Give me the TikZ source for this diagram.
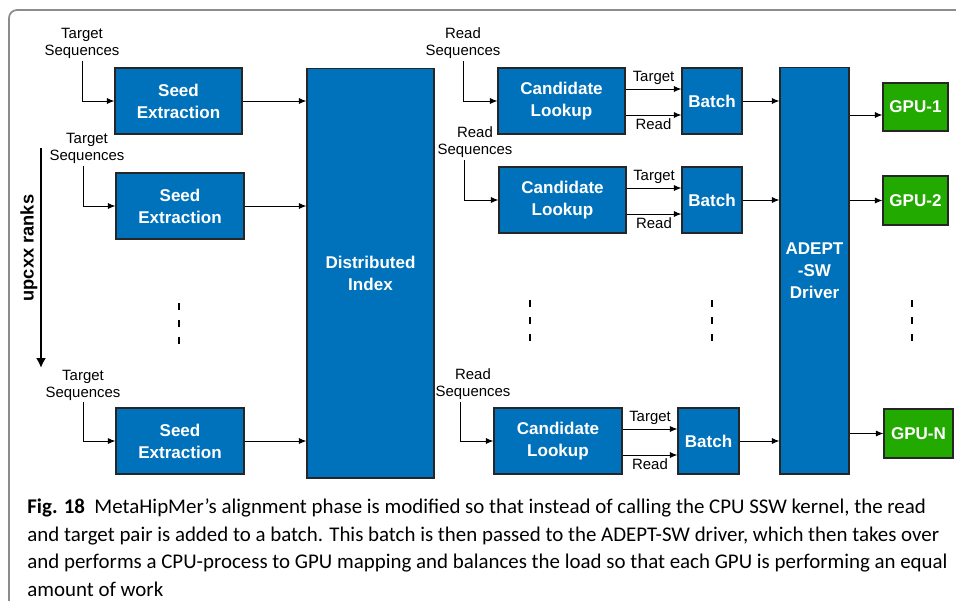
\documentclass[tikz,border=0pt]{standalone}
\usepackage{fontspec}
\setmainfont{Liberation Sans}
\newfontfamily\captionfont{Carlito}
\usetikzlibrary{arrows.meta}

\definecolor{boxblue}{RGB}{0,114,187}
\definecolor{gpugreen}{RGB}{34,170,0}
\definecolor{framegray}{RGB}{140,140,140}

\tikzset{
    blockbox/.style={draw=black!85, line width=0.6pt, fill=boxblue, text=white,
        font=\fontsize{9.7}{12.5}\selectfont\bfseries, align=center, inner sep=0pt},
    gpubox/.style={blockbox, fill=gpugreen},
    inlabel/.style={font=\fontsize{8.5}{9.6}\selectfont, align=center, inner sep=1pt},
    arrowlabel/.style={font=\fontsize{8.5}{9.6}\selectfont, inner sep=2pt},
    flow/.style={-{Latex[length=1.5mm,width=1.2mm]}, line width=0.55pt},
    vdots/.style={line width=1.6pt, dash pattern=on 4pt off 5.7pt},
}

\begin{document}
\begin{tikzpicture}[x=0.02cm, y=-0.02cm]
        % Setup the frame
        \useasboundingbox (0,0) rectangle (956,600);
        \clip (0,0) rectangle (956,600);
        \draw[framegray, line width=1pt, rounded corners=0.16cm] (9,10) rectangle (990,640);

        % Seed extraction column
        \node[blockbox, minimum width=2.54cm, minimum height=1.32cm] (seed1) at (178.5,101) {Seed\\Extraction};
        \node[blockbox, minimum width=2.56cm, minimum height=1.32cm] (seed2) at (180,206) {Seed\\Extraction};
        \node[blockbox, minimum width=2.56cm, minimum height=1.32cm] (seed3) at (180,441) {Seed\\Extraction};

        \node[inlabel] (ts1) at (82,43.5) {Target\\Sequences};
        \node[inlabel] (ts2) at (87,148.5) {Target\\Sequences};
        \node[inlabel] (ts3) at (83,385) {Target\\Sequences};

        \draw[flow] (ts1.south) |- (seed1.west);
        \draw[flow] ([xshift=-0.08cm]ts2.south) |- (seed2.west);
        \draw[flow] (ts3.south) |- (seed3.west);

        % Distributed index
        \node[blockbox, minimum width=2.54cm, minimum height=8.2cm] (index) at (370.5,273) {Distributed\\Index};

        \draw[flow] (seed1.east) -- (seed1.east -| index.west);
        \draw[flow] (seed2.east) -- (seed2.east -| index.west);
        \draw[flow] (seed3.east) -- (seed3.east -| index.west);

        % Candidate lookup column
        \node[blockbox, minimum width=2.54cm, minimum height=1.32cm] (cl1) at (561.5,101) {Candidate\\Lookup};
        \node[blockbox, minimum width=2.54cm, minimum height=1.32cm] (cl2) at (562.5,200) {Candidate\\Lookup};
        \node[blockbox, minimum width=2.56cm, minimum height=1.32cm] (cl3) at (558,441) {Candidate\\Lookup};

        \node[inlabel] (rs1) at (463,43.5) {Read\\Sequences};
        \node[inlabel] (rs2) at (475,142.5) {Read\\Sequences};
        \node[inlabel] (rs3) at (473,384.5) {Read\\Sequences};

        \draw[flow] (rs1.south) |- (cl1.west);
        \draw[flow] ([xshift=-0.22cm]rs2.south) |- (cl2.west);
        \draw[flow] ([xshift=-0.26cm]rs3.south) |- (cl3.west);

        % Batches
        \node[blockbox, minimum width=1.2cm, minimum height=1.32cm] (batch1) at (712,101) {Batch};
        \node[blockbox, minimum width=1.2cm, minimum height=1.32cm] (batch2) at (712,200) {Batch};
        \node[blockbox, minimum width=1.22cm, minimum height=1.32cm] (batch3) at (708.5,441) {Batch};

        \foreach \i in {1,2,3} {
            \coordinate (tgt\i) at ([yshift=0.24cm]cl\i.east);
            \coordinate (rd\i) at ([yshift=-0.28cm]cl\i.east);
            \draw[flow] (tgt\i) -- (tgt\i -| batch\i.west) node[midway, above, arrowlabel] {Target};
            \draw[flow] (rd\i) -- (rd\i -| batch\i.west) node[midway, below, arrowlabel] {Read};
        }

        % Driver and GPUs
        \node[blockbox, minimum width=1.38cm, minimum height=8.14cm] (adept) at (814.5,270.5) {ADEPT\\-SW\\Driver};

        \draw[flow] (batch1.east) -- (batch1.east -| adept.west);
        \draw[flow] (batch2.east) -- (batch2.east -| adept.west);
        \draw[flow] (batch3.east) -- (batch3.east -| adept.west);

        \node[gpubox, minimum width=1.3cm, minimum height=0.96cm] (gpu1) at (915.5,107) {GPU-1};
        \node[gpubox, minimum width=1.3cm, minimum height=0.98cm] (gpu2) at (915.5,200.5) {GPU-2};
        \node[gpubox, minimum width=1.38cm, minimum height=0.98cm] (gpuN) at (918.5,433.5) {GPU-N};

        \coordinate (g1) at ([yshift=-0.16cm]gpu1.west);
        \draw[flow] (g1 -| adept.east) -- (g1);
        \draw[flow] (gpu2.west -| adept.east) -- (gpu2.west);
        \draw[flow] (gpuN.west -| adept.east) -- (gpuN.west);

        % Vertical dots
        \draw[vdots] (179,303) -- (179,344);
        \draw[vdots] (530,300) -- (530,341);
        \draw[vdots] (712,300) -- (712,341);
        \draw[vdots] (912,300) -- (912,341);

        % Rank arrow
        \coordinate (ranktop) at (41,148);
        \coordinate (rankbot) at (41,368);
        \draw[line width=1.7pt, -{Latex[length=5.7pt,width=5.7pt]}] (ranktop) -- (rankbot);
        \node[rotate=90, font=\fontsize{10.4}{12}\selectfont\bfseries] (ranks) at (29,248) {upcxx ranks};

        % Caption
        \node[anchor=north west, align=left, inner sep=0pt,
              font=\captionfont\fontsize{11.9}{15.9}\selectfont] (caption) at (27,498)
            {\textbf{Fig. 18}\hspace{0.45em}MetaHipMer’s alignment phase is modified so that instead of calling the CPU SSW kernel, the read\\
             and target pair is added to a batch. This batch is then passed to the ADEPT-SW driver, which then takes over\\
             and performs a CPU-process to GPU mapping and balances the load so that each GPU is performing an equal\\
             amount of work};
\end{tikzpicture}
\end{document}
